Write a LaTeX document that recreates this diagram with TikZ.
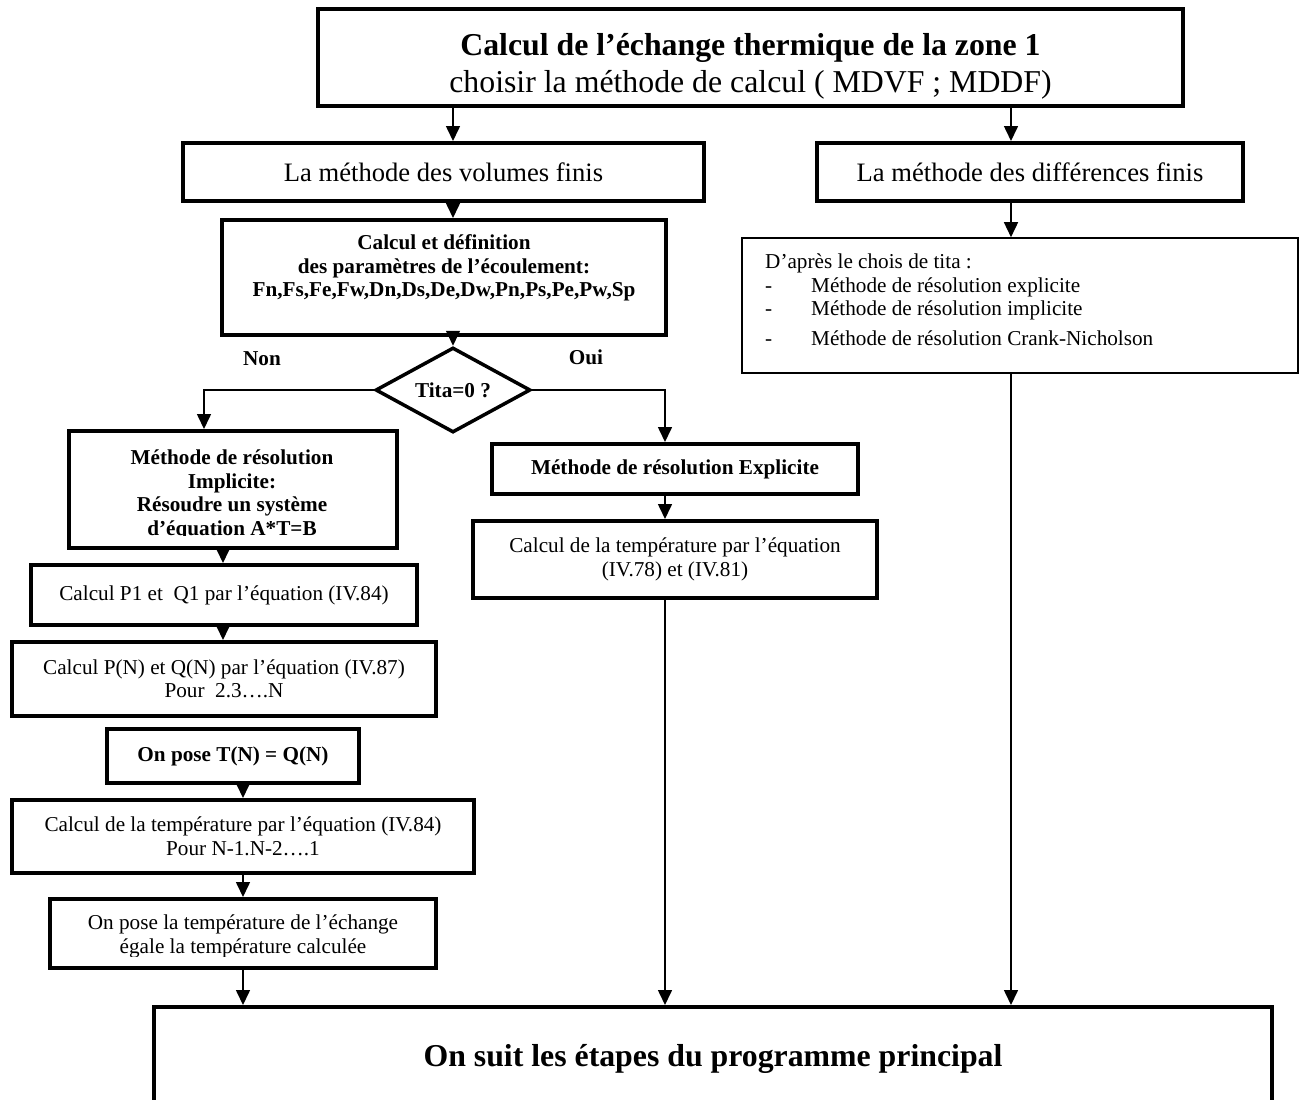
\documentclass[tikz,border=0pt]{standalone}
\usepackage{fontspec}
\setmainfont{Liberation Serif}
\usetikzlibrary{shapes.geometric,arrows.meta}

\newcommand{\smallfs}{\fontsize{21.2}{23.5}\selectfont}
\newcommand{\midfs}{\fontsize{26.6}{30}\selectfont}
\newcommand{\bigfs}{\fontsize{31.8}{37}\selectfont}

\begin{document}
\begin{tikzpicture}[x=1pt,y=-1pt,
  box/.style={draw,line width=4pt,rectangle,inner sep=0pt,align=center,font=\smallfs},
  thinbox/.style={draw,line width=1.6pt,rectangle,inner sep=0pt},
  decision/.style={draw,line width=3.5pt,diamond,shape aspect=1.8,inner sep=0pt,font=\smallfs\bfseries},
  arr/.style={line width=1.6pt,-{Triangle[length=15pt,width=14pt]}}]
\useasboundingbox (0,0) rectangle (1304,1100);

% ================= Columns of the connectors =================
\coordinate (colA) at (453,0);
\coordinate (colB) at (665,0);
\coordinate (colC) at (1011,0);
\coordinate (colL) at (204,0);
\coordinate (colM) at (223,0);
\coordinate (colN) at (243,0);

% ================= Head and the two methods =================
\node[box,minimum width=865pt,minimum height=97pt,font=\bigfs] (top) at (750.5,57.5)
  {\rule{0pt}{40pt}\textbf{Calcul de l’échange thermique de la zone 1}\\choisir la méthode de calcul ( MDVF ; MDDF)};
\node[box,minimum width=521pt,minimum height=58pt,font=\midfs] (fvm) at (443.5,172) {La méthode des volumes finis};
\node[box,minimum width=426pt,minimum height=58pt,font=\midfs] (fdm) at (1030,172) {La méthode des différences finis};

% ================= Finite volumes branch =================
\node[box,minimum width=444pt,minimum height=115pt,font=\smallfs\bfseries] (param) at (444,277.5)
  {Calcul et définition\\des paramètres de l’écoulement:\\Fn,Fs,Fe,Fw,Dn,Ds,De,Dw,Pn,Ps,Pe,Pw,Sp\\ \mbox{}};
\node[decision,minimum width=155pt,minimum height=85pt] (dec) at (453,390) {Tita=0 ?};
\node[font=\smallfs\bfseries] (non) at (262,359) {Non};
\node[font=\smallfs\bfseries] (oui) at (586,357) {Oui};

\node[box,minimum width=328pt,minimum height=117pt] (impl) at (233,489.5) {};
\begin{scope}
\clip (69,431) rectangle (397,535);
\node[font=\smallfs\bfseries,align=center,inner sep=0pt,anchor=north] (impltxt) at (232,450)
  {Méthode de résolution\\Implicite:\\Résoudre un système\\d’équation A*T=B};
\end{scope}

\node[box,minimum width=366pt,minimum height=50pt,font=\smallfs\bfseries] (expl) at (675,469) {Méthode de résolution Explicite};
\node[box,minimum width=404pt,minimum height=77pt] (texp) at (675,559.5) {Calcul de la température par l’équation\\(IV.78) et (IV.81)};

\node[box,minimum width=386pt,minimum height=60pt] (pq1) at (224,595) {Calcul P1 et~ Q1 par l’équation (IV.84)};
\node[box,minimum width=424pt,minimum height=74pt] (pqn) at (224,679) {Calcul P(N) et Q(N) par l’équation (IV.87)\\Pour~ 2.3….N};
\node[box,minimum width=252pt,minimum height=54pt,font=\smallfs\bfseries] (pose) at (233,756) {On pose T(N) = Q(N)};
\node[box,minimum width=462pt,minimum height=73pt] (tempn) at (243,836.5) {Calcul de la température par l’équation (IV.84)\\Pour N-1.N-2….1};

\node[box,minimum width=386pt,minimum height=69pt] (egal) at (243,933.5) {};
\begin{scope}
\clip (50,899) rectangle (436,956);
\node[font=\smallfs,align=center,inner sep=0pt,anchor=north] (egaltxt) at (243,915)
  {On pose la température de l’échange\\égale la température calculée};
\end{scope}

% ================= Finite differences branch =================
\node[thinbox,minimum width=556pt,minimum height=135pt] (dapres) at (1020,305.5) {};
\node[font=\smallfs,align=left,inner sep=0pt,anchor=north west] (dtxt) at (765,254)
  {D’après le chois de tita :\\
   \makebox[46pt][l]{-}Méthode de résolution explicite\\
   \makebox[46pt][l]{-}Méthode de résolution implicite\\[6pt]
   \makebox[46pt][l]{-}Méthode de résolution Crank-Nicholson};

% ================= Main program =================
\node[box,minimum width=1118pt,minimum height=103pt,font=\bigfs\bfseries] (final) at (713,1058.5) {On suit les étapes du programme principal};

% ================= Connectors =================
\draw[arr] (top.south -| colA) -- (fvm.north -| colA);
\draw[arr] (top.south -| colC) -- (fdm.north -| colC);
\draw[arr] (fvm.south -| colA) -- (param.north -| colA);
\draw[arr] (fdm.south -| colC) -- (dapres.north -| colC);
\draw[arr] (param.south -| colA) -- (dec.north);
\draw[arr] (dec.west) -| (impl.north -| colL);
\draw[arr] (dec.east) -| (expl.north -| colB);
\draw[arr] (expl.south -| colB) -- (texp.north -| colB);
\draw[arr] (texp.south -| colB) -- (final.north -| colB);
\draw[arr] (dapres.south -| colC) -- (final.north -| colC);
\draw[arr] (impl.south -| colM) -- (pq1.north -| colM);
\draw[arr] (pq1.south -| colM) -- (pqn.north -| colM);
\draw[arr] (pose.south -| colN) -- (tempn.north -| colN);
\draw[arr] (tempn.south -| colN) -- (egal.north -| colN);
\draw[arr] (egal.south -| colN) -- (final.north -| colN);
\end{tikzpicture}
\end{document}
